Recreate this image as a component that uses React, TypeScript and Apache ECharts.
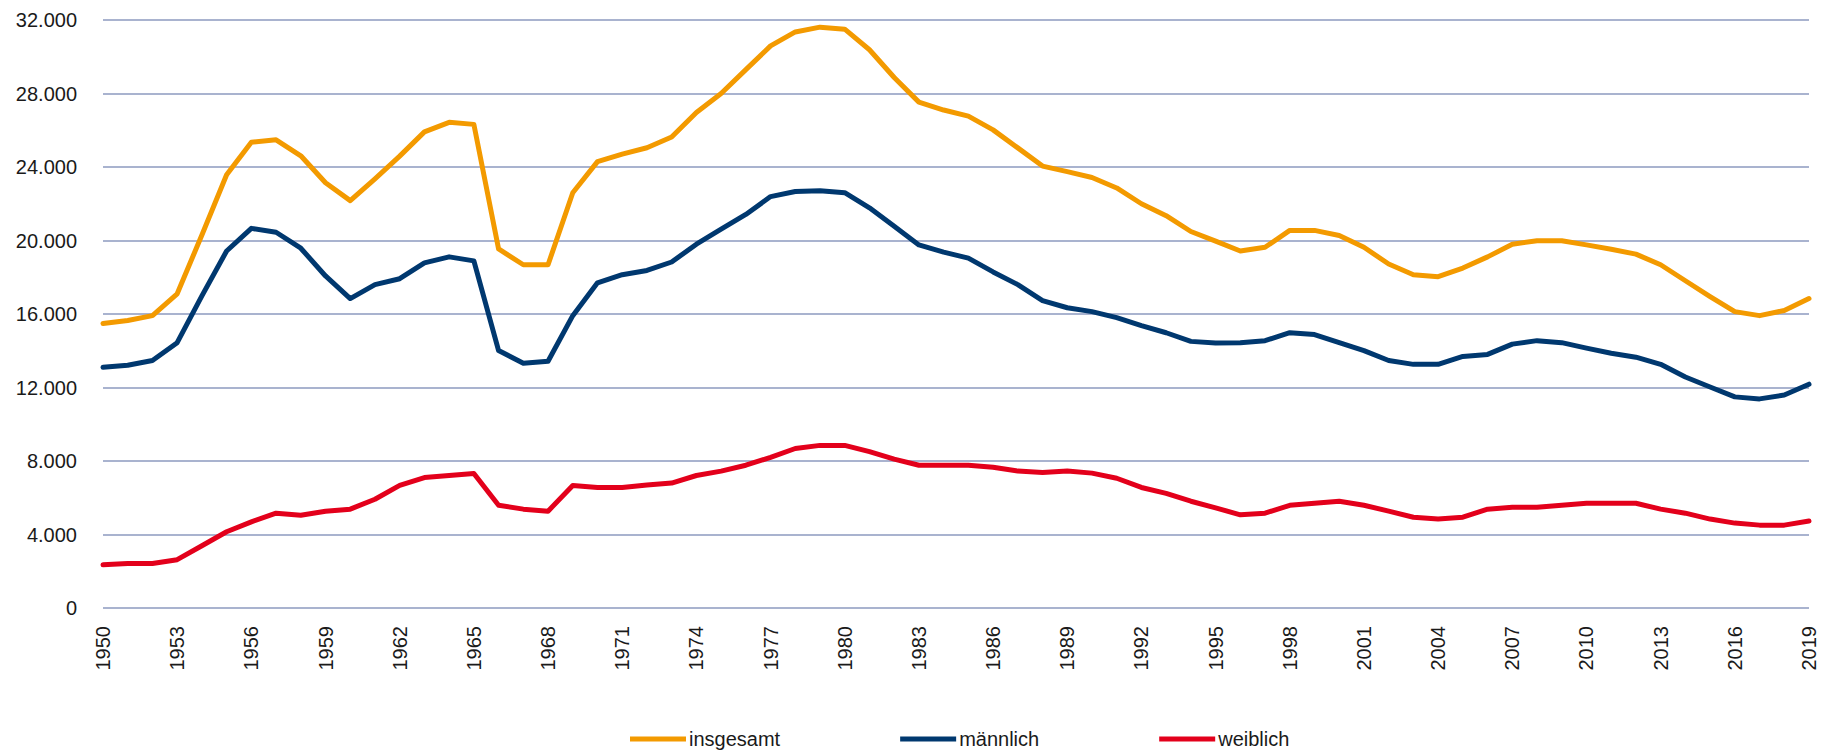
import React, { useEffect, useRef } from "react";
import * as echarts from "echarts";

const years: string[] = Array.from({ length: 70 }, (_, i) => String(1950 + i));

const insgesamt: number[] = [
  15480, 15650, 15910, 17100, 20300, 23580, 25350, 25480, 24610, 23140,
  22170, 23360, 24590, 25910, 26430, 26320, 19540, 18680, 18680, 22600,
  24290, 24700, 25050, 25630, 26970, 28000, 29300, 30590, 31350, 31610,
  31500, 30380, 28870, 27530, 27100, 26770, 26020, 25040, 24050, 23750,
  23430, 22860, 22000, 21350, 20490, 19970, 19430, 19630, 20550, 20550,
  20270, 19630, 18720, 18140, 18030, 18500, 19110, 19800, 19990, 19990,
  19760, 19520, 19260, 18680, 17810, 16950, 16130, 15910, 16190, 16840,
];

const maennlich: number[] = [
  13100, 13210, 13470, 14440, 16990, 19430, 20660, 20450, 19580, 18070,
  16840, 17600, 17920, 18780, 19110, 18890, 14010, 13320, 13430, 15910,
  17700, 18140, 18370, 18830, 19800, 20620, 21420, 22390, 22670, 22710,
  22600, 21780, 20770, 19760, 19370, 19040, 18290, 17600, 16730, 16340,
  16130, 15800, 15370, 14980, 14510, 14420, 14440, 14550, 14980, 14880,
  14440, 14010, 13470, 13260, 13260, 13690, 13800, 14360, 14550, 14440,
  14140, 13860, 13650, 13260, 12570, 12030, 11490, 11380, 11590, 12180,
];

const weiblich: number[] = [
  2350, 2420, 2420, 2630, 3390, 4150, 4690, 5160, 5050, 5270,
  5380, 5920, 6670, 7100, 7210, 7320, 5590, 5380, 5270, 6670,
  6560, 6560, 6690, 6800, 7210, 7450, 7770, 8200, 8680, 8850,
  8850, 8510, 8100, 7770, 7770, 7770, 7660, 7450, 7380, 7450,
  7340, 7060, 6560, 6240, 5810, 5450, 5070, 5160, 5590, 5700,
  5810, 5590, 5270, 4940, 4840, 4940, 5380, 5480, 5480, 5590,
  5700, 5700, 5700, 5380, 5160, 4840, 4620, 4510, 4510, 4730,
];

const seriesNames = ["insgesamt", "männlich", "weiblich"];
const seriesColors = ["#F39A00", "#00386F", "#E3001B"];

const FONT = "'Liberation Sans', Arial, sans-serif";

function fmt(v: number): string {
  const s = String(Math.round(v));
  return s.replace(/\B(?=(\d{3})+(?!\d))/g, ".");
}

export default function App() {
  const ref = useRef<HTMLDivElement>(null);

  useEffect(() => {
    if (!ref.current) return;
    const chart = echarts.init(ref.current, undefined, { renderer: "svg" });
    const datasets = [insgesamt, maennlich, weiblich];
    chart.setOption({
      animation: false,
      grid: { left: 103, right: 27, top: 20, bottom: 144, containLabel: false },
      legend: {
        left: 625,
        top: 724,
        icon: "rect",
        itemWidth: 56,
        itemHeight: 5,
        itemGap: 120,
        textStyle: { fontFamily: FONT, fontSize: 20, color: "#1a1a1a", padding: [0, 0, 0, -2] },
        data: seriesNames,
      },
      xAxis: {
        type: "category",
        data: years,
        boundaryGap: false,
        axisLine: { show: false },
        axisTick: { show: false },
        axisLabel: {
          interval: 2,
          rotate: 90,
          margin: 18,
          fontFamily: FONT,
          fontSize: 20,
          color: "#1a1a1a",
        },
        splitLine: { show: false },
      },
      yAxis: {
        type: "value",
        min: 0,
        max: 32000,
        interval: 4000,
        axisLine: { show: false },
        axisTick: { show: false },
        axisLabel: {
          margin: 26,
          fontFamily: FONT,
          fontSize: 20,
          color: "#1a1a1a",
          formatter: (v: number) => fmt(v),
        },
        splitLine: { show: true, lineStyle: { color: "#A9B3CF", width: 2 } },
      },
      series: seriesNames.map((name, i) => ({
        name,
        type: "line",
        data: datasets[i],
        symbol: "none",
        showSymbol: false,
        lineStyle: { color: seriesColors[i], width: 5, join: "round", cap: "round" },
        itemStyle: { color: seriesColors[i] },
      })),
    });
    return () => chart.dispose();
  }, []);

  return (
    <div
      ref={ref}
      style={{ position: "absolute", left: 0, top: 0, width: 1836, height: 752 }}
    />
  );
}
